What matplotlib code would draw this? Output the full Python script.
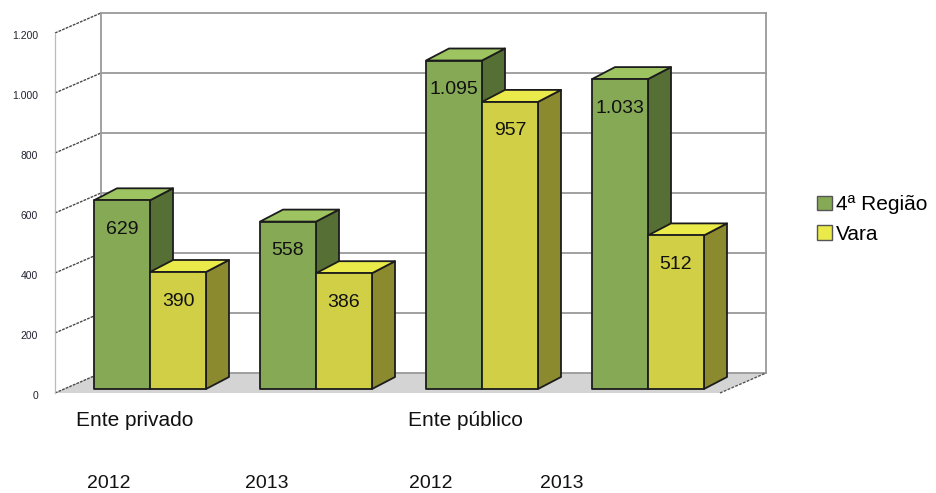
import matplotlib
matplotlib.use("Agg")
import matplotlib.pyplot as plt
from matplotlib.patches import Polygon, Patch

plt.rcParams['font.family'] = ['Liberation Sans', 'DejaVu Sans']

# ---------------- data ----------------
groups = ["Ente privado", "Ente público"]
years = ["2012", "2013", "2012", "2013"]
series_names = ["4ª Região", "Vara"]
regiao = [629, 558, 1095, 1033]
vara = [390, 386, 957, 512]
yticks = [0, 200, 400, 600, 800, 1000, 1200]

# ---------------- layout / style ----------------
W, H = 937, 493
GX0, GDX = 150.0, 166.0        # pixel of first group centre, spacing
VPX = 0.3                      # pixels per value unit
Y0PX = 389.0                   # pixel row of value 0 (bar front plane)
PXX = 1.0 / GDX                # x units per pixel
PXV = 1.0 / VPX                # value units per pixel

bar_w = 56 * PXX
bar_dx, bar_dv = 23 * PXX, 12 * PXV
front_left, front_right = (55 - GX0) * PXX, (720 - GX0) * PXX
front_dv = -4 * PXV
wall_dx, wall_dv = 46 * PXX, 20 * PXV

col = {
    0: dict(front="#86a956", side="#566f35", top="#9dc461"),
    1: dict(front="#d1cf45", side="#8b8a2f", top="#eaea4b"),
}
edge = "#1c1c1c"

fig = plt.figure(figsize=(W / 100, H / 100), dpi=100)
ax = fig.add_axes([0, 0, 1, 1])
ax.set_xlim((0 - GX0) * PXX, (W - GX0) * PXX)
ax.set_ylim((Y0PX - H) * PXV, Y0PX * PXV)
ax.axis("off")

# floor
bl = (front_left + wall_dx, front_dv + wall_dv)
br = (front_right + wall_dx, front_dv + wall_dv)
floor = Polygon([(front_left, front_dv), (front_right, front_dv), br, bl],
                closed=True, facecolor="#d4d4d4", edgecolor="none", zorder=1)
ax.add_patch(floor)
ax.plot([front_right, br[0]], [front_dv, br[1]], color="#555555",
        lw=1.0, ls=(0, (2, 1)), zorder=2)

# back wall gridlines and edges
top_v = yticks[-1]
for v in yticks:
    ax.plot([bl[0], br[0]], [v + front_dv + wall_dv] * 2, color="#9a9a9a",
            lw=1.3, zorder=1.5)
    # side-wall diagonals
    ax.plot([front_left, bl[0]], [v + front_dv, v + front_dv + wall_dv],
            color="#4a4a4a", lw=1.0, ls=(0, (2, 0.8)), zorder=1.5)
for xx in (bl[0], br[0]):
    ax.plot([xx, xx], [front_dv + wall_dv, top_v + front_dv + wall_dv],
            color="#9a9a9a", lw=1.3, zorder=1.5)
ax.plot([front_left, front_left], [front_dv, top_v + front_dv],
        color="#bbbbbb", lw=0.9, zorder=1.5)

# y tick labels
for v in yticks:
    lab = f"{v:,}".replace(",", ".")
    ax.text((38 - GX0) * PXX, v + front_dv - 3 * PXV, lab, ha="right",
            va="center", fontsize=7.5, color="#222233")


def bar3d(x0, v, c, z):
    x1 = x0 + bar_w
    front = Polygon([(x0, 0), (x1, 0), (x1, v), (x0, v)], closed=True,
                    facecolor=c["front"], edgecolor=edge, lw=1.3, zorder=z,
                    joinstyle="round")
    side = Polygon([(x1, 0), (x1 + bar_dx, bar_dv), (x1 + bar_dx, v + bar_dv),
                    (x1, v)], closed=True, facecolor=c["side"], edgecolor=edge,
                   lw=1.3, zorder=z, joinstyle="round")
    top = Polygon([(x0, v), (x1, v), (x1 + bar_dx, v + bar_dv),
                   (x0 + bar_dx, v + bar_dv)], closed=True,
                  facecolor=c["top"], edgecolor=edge, lw=1.3, zorder=z,
                  joinstyle="round")
    for p in (side, top, front):
        ax.add_patch(p)


z = 3
for i, (a, b) in enumerate(zip(regiao, vara)):
    for s, v in enumerate((a, b)):
        x0 = i + (s - 1) * bar_w
        bar3d(x0, v, col[s], z)
        ax.text(x0 + bar_w / 2, v - 29 * PXV, f"{v:,}".replace(",", "."),
                ha="center", va="center", fontsize=14, color="#111111",
                zorder=z + 0.5)
        z += 1

# category labels
for k, g in enumerate(groups):
    ax.text(2 * k - bar_w - 18 * PXX, (Y0PX - 421) * PXV, g, ha="left",
            va="center", fontsize=15, color="#111111")
year_off_px = [-41, -49, -51, -86]
for i, y in enumerate(years):
    ax.text(i + year_off_px[i] * PXX, (Y0PX - 483) * PXV, y, ha="center",
            va="center", fontsize=14, color="#111111")

# legend
handles = [Patch(facecolor=col[s]["front"] if s == 0 else col[s]["top"],
                 edgecolor="#555555", lw=1.0, label=n)
           for s, n in enumerate(series_names)]
leg = fig.legend(handles=handles, loc="upper left",
                 bbox_to_anchor=(809 / W, 1 - 187 / H), frameon=False,
                 fontsize=15, handlelength=0.7, handleheight=0.7,
                 handletextpad=0.2, labelspacing=0.5, borderaxespad=0)

fig.savefig("out.png", dpi=100)
